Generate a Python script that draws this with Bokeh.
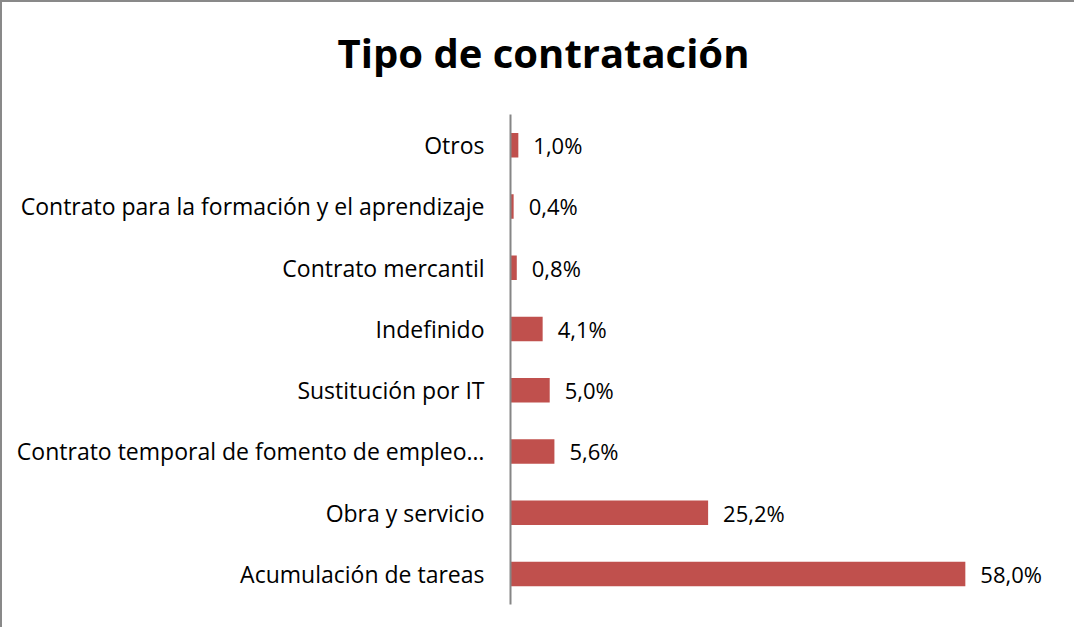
from bokeh.plotting import figure
from bokeh.models import Range1d, FactorRange, ColumnDataSource, Label
from bokeh.core.properties import value
from bokeh.embed import file_html
from bokeh.resources import INLINE

title_text = "Tipo de contratación"
categories = [
    "Acumulación de tareas",
    "Obra y servicio",
    "Contrato temporal de fomento de empleo…",
    "Sustitución por IT",
    "Indefinido",
    "Contrato mercantil",
    "Contrato para la formación y el aprendizaje",
    "Otros",
]
values = [58.0, 25.2, 5.6, 5.0, 4.1, 0.8, 0.4, 1.0]
labels = [("%.1f" % v).replace(".", ",") + "%" for v in values]

FONT = "Open Sans"

src = ColumnDataSource(dict(cat=categories, val=values, lab=labels))

p = figure(
    width=1074, height=627,
    y_range=FactorRange(*categories),
    x_range=Range1d(0, 70.9),
    output_backend="svg", toolbar_location=None,
    min_border_left=508, min_border_right=10,
    min_border_top=112, min_border_bottom=25,
)
p.styles = {"border-left": "2px solid #898989", "border-top": "2px solid #898989"}

title = Label(x=33, y=62, x_units="screen", y_units="screen", text=title_text,
              text_font=FONT, text_font_style="bold", text_font_size="40px",
              text_color="#000000", text_align="center", text_baseline="middle")
p.add_layout(title, "above")

p.hbar(y="cat", right="val", left=0, height=0.4, source=src,
       fill_color="#C0504D", line_color=None)
p.text(x="val", y="cat", text="lab", source=src, x_offset=15,
       text_baseline="middle", text_align="left",
       text_font=value(FONT), text_font_size="22px", text_color="#000000")

p.xaxis.visible = False
p.xgrid.visible = False
p.ygrid.visible = False
p.outline_line_color = None

ya = p.yaxis[0]
ya.axis_line_color = "#868686"
ya.axis_line_width = 2
ya.major_tick_line_color = None
ya.minor_tick_line_color = None
ya.major_tick_out = 0
ya.major_tick_in = 0
ya.major_label_standoff = 26
ya.major_label_text_font = FONT
ya.major_label_text_font_size = "23px"
ya.major_label_text_color = "#000000"

open("out.html", "w").write(file_html(p, INLINE))
